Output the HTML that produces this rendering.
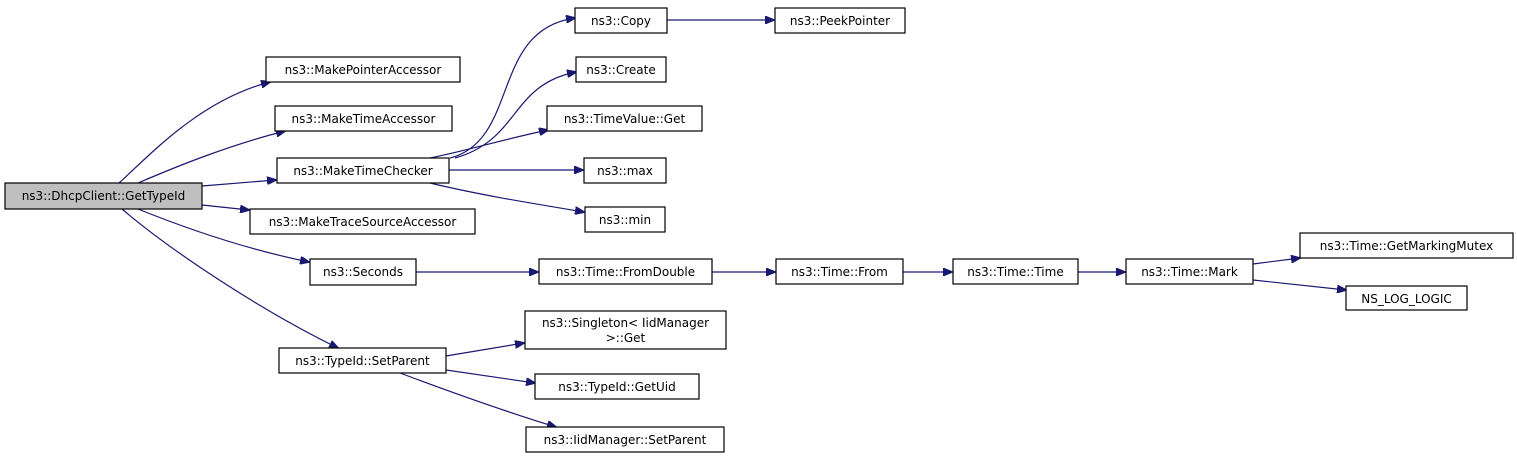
<!DOCTYPE html>
<html><head><meta charset="utf-8"><style>
html,body{margin:0;padding:0;background:#fff;}
svg{display:block;}
text{font-family:"DejaVu Sans","Liberation Sans",sans-serif;font-size:12px;fill:#000;}
.b{fill:#fff;stroke:#000;stroke-width:1.2;}
.e{fill:none;stroke:#191970;stroke-width:1.2;}
</style></head><body>
<svg width="1517" height="459" viewBox="0 0 1517 459">
<defs><marker id="a" markerWidth="10" markerHeight="8" refX="9" refY="4" orient="auto" markerUnits="userSpaceOnUse"><path d="M0,0 L10,4 L0,8 Z" fill="#191970" stroke="#191970"/></marker></defs>
<!-- edges -->
<path class="e" marker-end="url(#a)" d="M119,183 C150,155 200,100 270,82"/>
<path class="e" marker-end="url(#a)" d="M138,183 C180,165 230,145 285,131"/>
<path class="e" marker-end="url(#a)" d="M202,186 L276,180"/>
<path class="e" marker-end="url(#a)" d="M202,205 L249,210"/>
<path class="e" marker-end="url(#a)" d="M138,209 C190,230 250,250 309,262"/>
<path class="e" marker-end="url(#a)" d="M122,209 C170,250 260,310 338,348"/>
<path class="e" marker-end="url(#a)" d="M450,158 C520,140 490,30 575,18"/>
<path class="e" marker-end="url(#a)" d="M455,158 C520,140 510,85 576,72"/>
<path class="e" marker-end="url(#a)" d="M430,158 C470,150 500,140 548,130"/>
<path class="e" marker-end="url(#a)" d="M449,170 L583,170"/>
<path class="e" marker-end="url(#a)" d="M430,183 C480,195 530,203 584,212"/>
<path class="e" marker-end="url(#a)" d="M667,20 L774,20"/>
<path class="e" marker-end="url(#a)" d="M416,272 L538,272"/>
<path class="e" marker-end="url(#a)" d="M712,272 L775,272"/>
<path class="e" marker-end="url(#a)" d="M903,272 L952,272"/>
<path class="e" marker-end="url(#a)" d="M1078,272 L1125,272"/>
<path class="e" marker-end="url(#a)" d="M1253,264 L1300,258"/>
<path class="e" marker-end="url(#a)" d="M1253,280 L1346,290"/>
<path class="e" marker-end="url(#a)" d="M446,356 L524,343"/>
<path class="e" marker-end="url(#a)" d="M446,370 L535,383"/>
<path class="e" marker-end="url(#a)" d="M400,373 C440,388 500,410 556,427"/>
<!-- nodes -->
<rect x="5" y="183" width="197" height="26" fill="#bfbfbf" stroke="#000" stroke-width="1.2"/>
<text x="103.5" y="200" text-anchor="middle">ns3::DhcpClient::GetTypeId</text>
<rect class="b" x="266" y="57" width="194" height="25"/><text x="363" y="74" text-anchor="middle">ns3::MakePointerAccessor</text>
<rect class="b" x="275" y="106" width="177" height="25"/><text x="363.5" y="123" text-anchor="middle">ns3::MakeTimeAccessor</text>
<rect class="b" x="277" y="158" width="172" height="25"/><text x="363" y="175" text-anchor="middle">ns3::MakeTimeChecker</text>
<rect class="b" x="250" y="209" width="225" height="25"/><text x="362.5" y="226" text-anchor="middle">ns3::MakeTraceSourceAccessor</text>
<rect class="b" x="310" y="259" width="106" height="26"/><text x="363" y="276" text-anchor="middle">ns3::Seconds</text>
<rect class="b" x="279" y="348" width="167" height="25"/><text x="362.5" y="365" text-anchor="middle">ns3::TypeId::SetParent</text>
<rect class="b" x="575" y="8" width="92" height="25"/><text x="621" y="25" text-anchor="middle">ns3::Copy</text>
<rect class="b" x="775" y="8" width="130" height="25"/><text x="840" y="25" text-anchor="middle">ns3::PeekPointer</text>
<rect class="b" x="576" y="57" width="90" height="25"/><text x="621" y="74" text-anchor="middle">ns3::Create</text>
<rect class="b" x="547" y="106" width="155" height="25"/><text x="624.5" y="123" text-anchor="middle">ns3::TimeValue::Get</text>
<rect class="b" x="584" y="158" width="82" height="25"/><text x="625" y="175" text-anchor="middle">ns3::max</text>
<rect class="b" x="585" y="207" width="80" height="25"/><text x="625" y="224" text-anchor="middle">ns3::min</text>
<rect class="b" x="539" y="259" width="173" height="25"/><text x="625.5" y="276" text-anchor="middle">ns3::Time::FromDouble</text>
<rect class="b" x="776" y="259" width="127" height="25"/><text x="839.5" y="276" text-anchor="middle">ns3::Time::From</text>
<rect class="b" x="953" y="259" width="125" height="25"/><text x="1015.5" y="276" text-anchor="middle">ns3::Time::Time</text>
<rect class="b" x="1126" y="259" width="127" height="25"/><text x="1189.5" y="276" text-anchor="middle">ns3::Time::Mark</text>
<rect class="b" x="1300" y="233" width="213" height="25"/><text x="1406.5" y="250" text-anchor="middle">ns3::Time::GetMarkingMutex</text>
<rect class="b" x="1346" y="286" width="121" height="24"/><text x="1406.5" y="303" text-anchor="middle">NS_LOG_LOGIC</text>
<rect class="b" x="525" y="311" width="201" height="38"/><text x="625.5" y="327" text-anchor="middle">ns3::Singleton&lt; IidManager</text><text x="625.5" y="342" text-anchor="middle">&gt;::Get</text>
<rect class="b" x="535" y="374" width="164" height="25"/><text x="617" y="391" text-anchor="middle">ns3::TypeId::GetUid</text>
<rect class="b" x="526" y="427" width="198" height="25"/><text x="625" y="444" text-anchor="middle">ns3::IidManager::SetParent</text>
</svg>
</body></html>
